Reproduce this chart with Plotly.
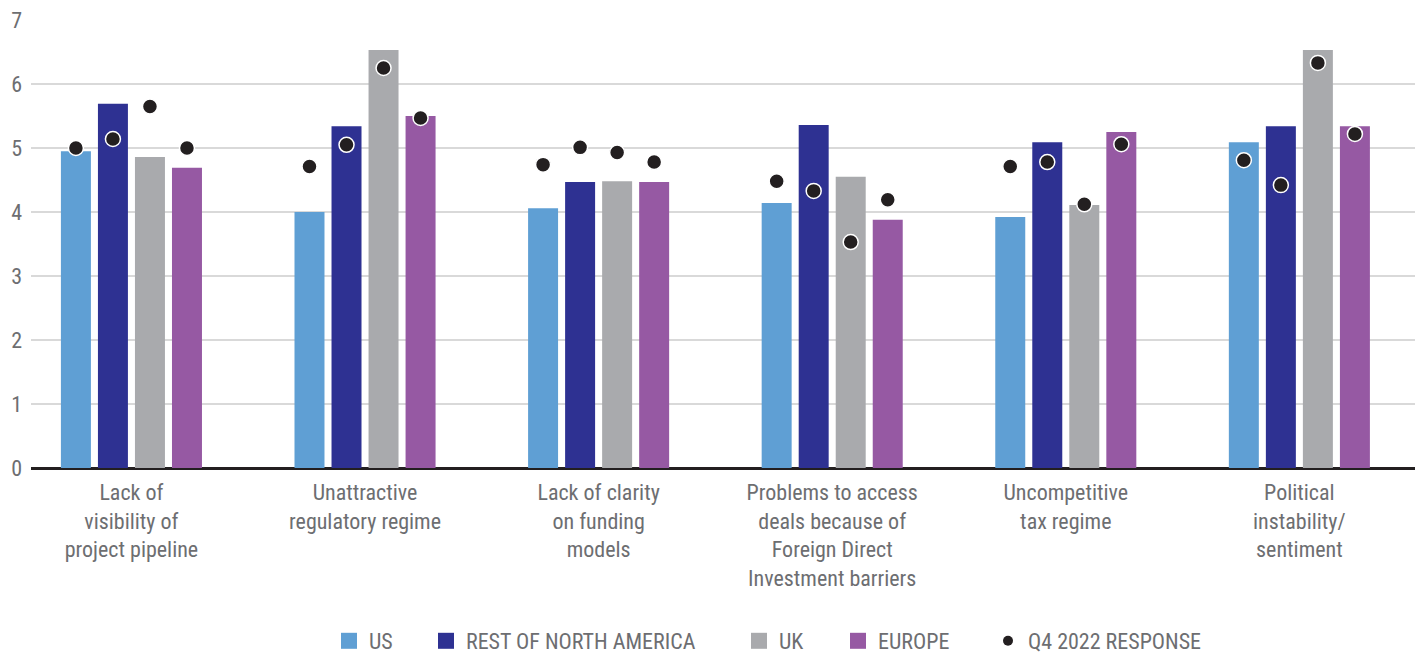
import plotly.graph_objects as go

categories = [
    "Lack of<br>visibility of<br>project pipeline",
    "Unattractive<br>regulatory regime",
    "Lack of clarity<br>on funding<br>models",
    "Problems to access<br>deals because of<br>Foreign Direct<br>Investment barriers",
    "Uncompetitive<br>tax regime",
    "Political<br>instability/<br>sentiment",
]
series_names = ["US", "REST OF NORTH AMERICA", "UK", "EUROPE"]
us = [4.95, 4.00, 4.06, 4.14, 3.92, 5.09]
rest_na = [5.69, 5.34, 4.47, 5.36, 5.09, 5.34]
uk = [4.86, 6.53, 4.48, 4.55, 4.11, 6.53]
europe = [4.69, 5.50, 4.47, 3.88, 5.25, 5.34]
q4_us = [5.00, 4.71, 4.74, 4.48, 4.71, 4.81]
q4_rest_na = [5.14, 5.05, 5.01, 4.33, 4.78, 4.42]
q4_uk = [5.65, 6.25, 4.93, 3.53, 4.12, 6.33]
q4_europe = [5.00, 5.47, 4.78, 4.19, 5.06, 5.22]
q4_name = "Q4 2022 RESPONSE"
y_ticks = [0, 1, 2, 3, 4, 5, 6, 7]

colors = ["#5f9fd4", "#2e3192", "#a9aaad", "#9659a3"]
dot_color = "#231f20"
text_color = "#6d6e71"
FONT = "Liberation Sans Narrow, Roboto Condensed, Arial Narrow, Roboto, sans-serif"

bargap = 0.366
bargroupgap = 0.19
slot = (1 - bargap) / 4

bar_values = [us, rest_na, uk, europe]
dot_values = [q4_us, q4_rest_na, q4_uk, q4_europe]
idx = list(range(len(categories)))

fig = go.Figure()
legend_names = ["legend", "legend2", "legend3", "legend4", "legend5"]

for j, (name, vals, col) in enumerate(zip(series_names, bar_values, colors)):
    fig.add_trace(go.Bar(x=idx, y=vals, name=name, marker_color=col,
                         marker_line_width=0, showlegend=False))

for j, vals in enumerate(dot_values):
    xs = [i + (j - 1.5) * slot for i in idx]
    fig.add_trace(go.Scatter(x=xs, y=vals, mode="markers", showlegend=False,
                             marker=dict(size=15, color=dot_color,
                                         line=dict(color="white", width=1.5))))

# legend proxies
for j, (name, col) in enumerate(zip(series_names, colors)):
    fig.add_trace(go.Scatter(x=[None], y=[None], mode="markers", name=name,
                             marker=dict(symbol="square", size=19, color=col),
                             legend=legend_names[j]))
fig.add_trace(go.Scatter(x=[None], y=[None], mode="markers", name=q4_name,
                         marker=dict(size=10, color=dot_color),
                         legend=legend_names[4]))

legend_x = [329, 426, 739, 838, 988]
leg_common = dict(orientation="h", xref="container", yref="container",
                  yanchor="middle", xanchor="left", y=(656 - 641) / 656,
                  font=dict(family=FONT, size=22, color=text_color),
                  bgcolor="rgba(0,0,0,0)", itemsizing="trace")
layout_legends = {}
for k, ln in enumerate(legend_names):
    layout_legends[ln] = dict(x=legend_x[k] / 1424, **leg_common)

fig.update_layout(
    width=1424, height=656,
    margin=dict(l=31, r=9, t=20, b=188),
    paper_bgcolor="white", plot_bgcolor="white",
    barmode="group", bargap=bargap, bargroupgap=bargroupgap,
    font=dict(family=FONT, size=22, color=text_color),
    showlegend=True,
    **layout_legends,
)
fig.update_xaxes(
    range=[-0.43, 5.495], tickmode="array", tickvals=idx, ticktext=categories,
    showgrid=False, zeroline=False, showline=False, ticks="",
    ticklabelstandoff=9,
    tickfont=dict(family=FONT, size=22, color=text_color),
)
fig.update_yaxes(
    range=[0, 7], tickmode="array", tickvals=y_ticks,
    showgrid=True, gridcolor="#d9d9d9", gridwidth=2,
    zeroline=True, zerolinecolor="#231f20", zerolinewidth=3,
    showline=False, ticks="", ticklabelstandoff=8,
    tickfont=dict(family=FONT, size=22, color=text_color),
)

fig.write_html("out.html")
